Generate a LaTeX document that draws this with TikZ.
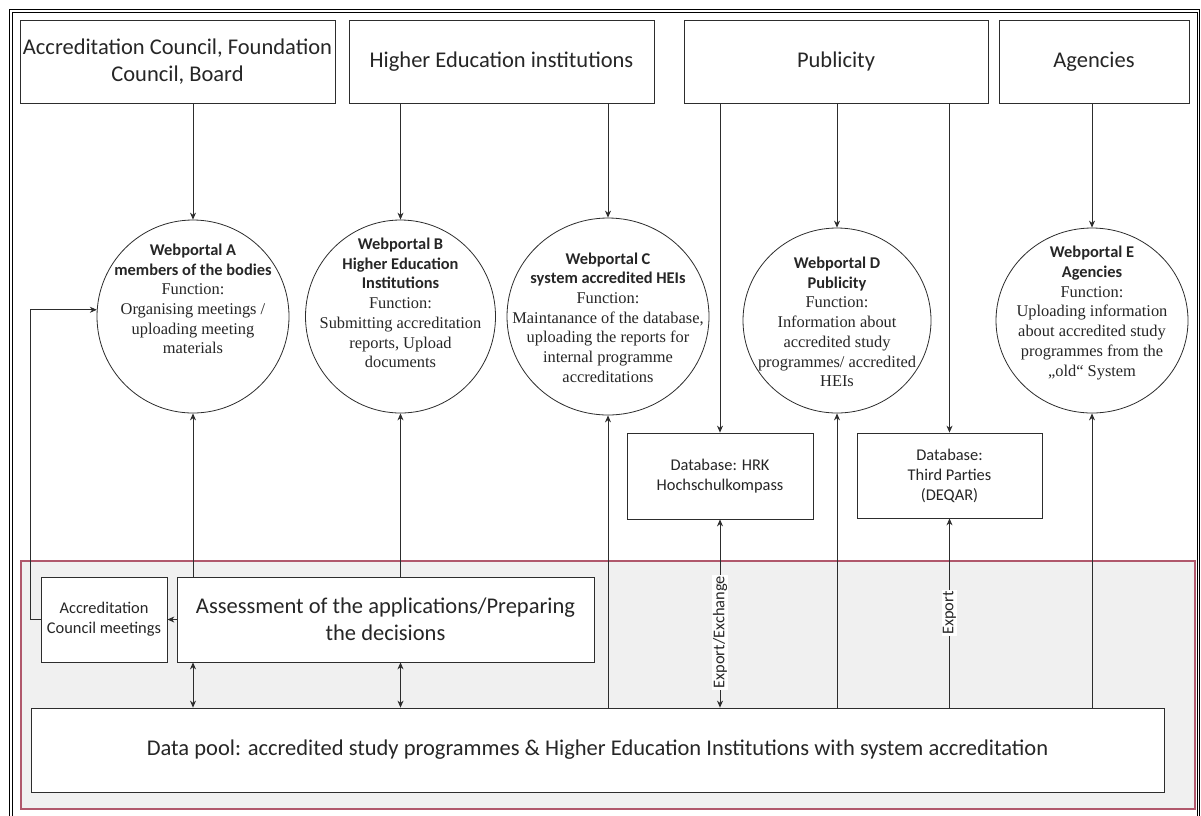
\documentclass[tikz,border=0pt]{standalone}
\usepackage{fontspec}
\setmainfont{Liberation Serif}
\setsansfont{Carlito}
\usetikzlibrary{shapes.geometric, arrows.meta, positioning}
\definecolor{framered}{RGB}{176,88,108}
\definecolor{poolgray}{RGB}{240,240,240}
\definecolor{linegray}{RGB}{45,45,45}

\tikzset{
  box/.style={draw=linegray, line width=0.8pt, fill=white, align=center, inner sep=2pt,
    text=black!85, font=\sffamily\fontsize{22.5}{27}\selectfont},
  smallbox/.style={box, font=\sffamily\fontsize{16.4}{20}\selectfont},
  portal/.style={draw=linegray, line width=0.8pt, fill=white, ellipse, inner sep=0pt},
  portaltext/.style={align=center, text=black!85, font=\rmfamily\fontsize{16.4}{19.7}\selectfont},
  flow/.style={draw=linegray, line width=0.8pt},
  flowlabel/.style={rotate=90, fill=white, inner sep=1pt, text=black!85,
    font=\sffamily\fontsize{16.4}{18}\selectfont},
}
\newcommand{\wphead}[1]{{\sffamily\bfseries #1}}

\begin{document}
\begin{tikzpicture}[x=1pt, y=-1pt, >={Stealth[length=7pt, width=6pt]}]
    \useasboundingbox (0,0) rectangle (1201,815);

    % Double outer frame
    \draw[line width=0.8pt] (9,9) rectangle (1199.5,830);
    \draw[line width=0.8pt] (12,12) rectangle (1197,830);

    % Top boxes
    \node[box, minimum width=315, minimum height=83] (acb) at (177.5,61.5) {Accreditation Council, Foundation\\Council, Board};
    \node[box, minimum width=305, minimum height=83] (hei) at (501.5,61.5) {Higher Education institutions};
    \node[box, minimum width=304, minimum height=83] (pub) at (836,61.5) {Publicity};
    \node[box, minimum width=190, minimum height=83] (agc) at (1094,61.5) {Agencies};

    % Webportals
    \node[portal, minimum width=192, minimum height=193,
      label={[portaltext, yshift=17.5pt]center:{\wphead{Webportal A}\\ \wphead{members of the bodies}\\ Function:\\ Organising meetings /\\ uploading meeting\\ materials}}]
      (A) at (193,316.5) {};
    \node[portal, minimum width=190, minimum height=193,
      label={[portaltext, yshift=13.5pt]center:{\wphead{Webportal B}\\ \wphead{Higher Education}\\ \wphead{Institutions}\\ Function:\\ Submitting accreditation\\ reports, Upload\\ documents}}]
      (B) at (400.5,316.5) {};
    \node[portal, minimum width=202, minimum height=197,
      label={[portaltext, yshift=-1pt]center:{\wphead{Webportal C}\\ \wphead{system accredited HEIs}\\ Function:\\ Maintanance of the database,\\ uploading the reports for\\ internal programme\\ accreditations}}]
      (C) at (608,316.5) {};
    \node[portal, minimum width=188, minimum height=185,
      label={[portaltext, yshift=-1.5pt]center:{\wphead{Webportal D}\\ \wphead{Publicity}\\ Function:\\ Information about\\ accredited study\\ programmes/ accredited\\ HEIs}}]
      (D) at (837,320.5) {};
    \node[portal, minimum width=192, minimum height=185,
      label={[portaltext, yshift=7.5pt]center:{\wphead{Webportal E}\\ \wphead{Agencies}\\ Function:\\ Uploading information\\ about accredited study\\ programmes from the\\ „old“ System}}]
      (E) at (1092,320.5) {};

    % Databases
    \node[smallbox, minimum width=186, minimum height=86] (hrk) at (720,476) {Database: HRK\\Hochschulkompass};
    \node[smallbox, minimum width=185, minimum height=85] (deqar) at (949.5,475.5) {Database:\\Third Parties\\(DEQAR)};

    % Office area
    \draw[framered, line width=1.8pt, fill=poolgray] (21,561) rectangle (1195,809);
    \node[smallbox, minimum width=126, minimum height=85] (meet) at (104,619.5) {Accreditation\\Council meetings};
    \node[box, minimum width=417, minimum height=85] (assess) at (385.5,619.5) {Assessment of the applications/Preparing\\the decisions};
    \node[box, minimum width=1133, minimum height=84] (pool) at (597.5,750) {Data pool: accredited study programmes \& Higher Education Institutions with system accreditation};

    % Arrows from the top boxes
    \foreach \src/\dst in {acb/A, hei/B, hei/C, pub/hrk, pub/D, pub/deqar, agc/E}
        \draw[flow, ->] (\dst.north |- \src.south) -- (\dst.north);

    % Arrows from the data pool
    \foreach \dst in {C, D, E}
        \draw[flow, ->] (\dst.south |- pool.north) -- (\dst.south);
    \draw[flow, <->] (hrk.south |- pool.north) -- node[flowlabel, pos=0.4] {Export/Exchange} (hrk.south);
    \draw[flow, ->] (deqar.south |- pool.north) -- node[flowlabel] {Export} (deqar.south);

    % Assessment to portals A and B
    \foreach \dst in {A, B} {
        \draw[flow, ->] (\dst.south |- assess.north) -- (\dst.south);
        \draw[flow, <->] (\dst.south |- assess.south) -- (\dst.south |- pool.north);
    }

    % Meetings
    \draw[flow, ->] (assess.west) -- (meet.east);
    \draw[flow, ->] (meet.west) -- ++(-10,0) |- (A.176);
\end{tikzpicture}
\end{document}
